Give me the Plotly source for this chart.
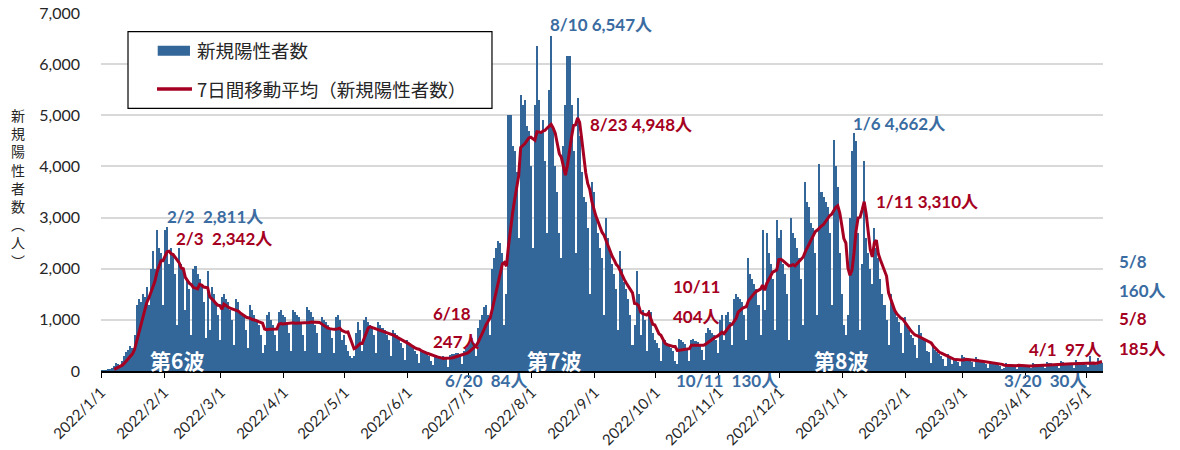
import pandas as pd
import plotly.graph_objects as go

# ---------------- data ----------------
start_date = "2022-01-01"
end_date = "2023-05-08"

cases_2022_01 = [10, 8, 5, 20, 30, 60, 100, 150, 140, 120, 200, 300, 380, 420, 480, 450,
                 700, 1300, 1400, 1350, 1500, 1450, 1650, 1300, 2000, 2350, 2000, 2750, 2400, 2300, 1300]
cases_2022_02 = [2750, 2811, 2085, 2400, 2300, 1900, 900, 2400, 2100, 2000, 1200, 1800, 1600, 700,
                 2000, 2050, 1900, 1800, 1700, 1350, 650, 1950, 800, 1650, 1500, 1350, 1100, 600]
cases_2022_03 = [1450, 1500, 1400, 1350, 1200, 1000, 500, 1400, 1350, 1150, 1100, 1050, 800, 450,
                 1300, 1200, 1100, 1000, 900, 700, 350, 500, 1100, 1150, 1000, 900, 700, 400, 1150, 1200, 1100]
cases_2022_04 = [1050, 900, 750, 400, 1200, 1150, 1100, 1050, 950, 700, 400, 1250, 1200, 1150, 1050,
                 900, 750, 350, 1050, 1000, 950, 900, 800, 650, 350, 1050, 1100, 1000, 600, 700]
cases_2022_05 = [500, 400, 300, 250, 300, 750, 950, 800, 400, 1000, 1050, 950, 900, 850, 700, 350,
                 950, 900, 850, 800, 700, 600, 300, 800, 750, 700, 650, 550, 450, 220, 600]
cases_2022_06 = [550, 500, 450, 400, 330, 150, 420, 400, 380, 350, 300, 200, 110, 300, 290, 280,
                 260, 290, 230, 84, 310, 330, 340, 350, 360, 290, 130, 400, 450, 500]
cases_2022_07 = [600, 650, 550, 300, 850, 1000, 1100, 1250, 1300, 1100, 700, 2000, 2200, 2400, 2550,
                 2500, 2300, 900, 1500, 5000, 5000, 4400, 4300, 3900, 2600, 5400, 5200, 5300, 4800, 4700, 4000]
cases_2022_08 = [2400, 5200, 6350, 5300, 4700, 4900, 4100, 2700, 5500, 6547, 4800, 4000, 3500, 2700,
                 2200, 4400, 5200, 6150, 6150, 5200, 4300, 2300, 5335, 4600, 3900, 3400, 3300, 2800,
                 1500, 3700, 3500]
cases_2022_09 = [3000, 2700, 2400, 2200, 1100, 3000, 2600, 2300, 2100, 1900, 1600, 800, 2350, 2000,
                 1750, 1600, 1400, 1100, 500, 900, 1950, 1500, 700, 1200, 1000, 400, 1200, 1150, 750, 600]
cases_2022_10 = [550, 450, 200, 650, 600, 550, 500, 450, 400, 200, 130, 620, 600, 560, 520, 430,
                 200, 600, 620, 580, 560, 520, 420, 220, 750, 850, 800, 750, 700, 600, 350]
cases_2022_11 = [1000, 1100, 600, 1100, 1150, 950, 500, 1400, 1500, 1450, 1400, 1350, 1100, 600,
                 2200, 1900, 1800, 1700, 1600, 1300, 700, 2750, 1200, 2700, 2300, 2100, 1800, 800, 2950, 2600]
cases_2022_12 = [2750, 2100, 1900, 1500, 600, 3000, 2700, 2600, 2400, 2200, 1800, 900, 3700, 3300,
                 3200, 2900, 2800, 2300, 1100, 4050, 3500, 3400, 3300, 3200, 2700, 1300, 4520, 4000,
                 3600, 2300, 1500]
cases_2023_01 = [900, 700, 1100, 3000, 4300, 4662, 4500, 2700, 800, 2100, 4108, 2600, 2300, 2000,
                 1700, 2800, 2400, 2200, 1800, 1500, 1300, 1000, 500, 1500, 1300, 1200, 1050, 950,
                 750, 350, 1050]
cases_2023_02 = [900, 800, 700, 650, 500, 250, 900, 750, 650, 600, 400, 380, 150, 500, 420, 380,
                 330, 290, 230, 100, 330, 280, 130, 260, 230, 180, 90, 320]
cases_2023_03 = [280, 250, 230, 210, 170, 70, 270, 230, 200, 190, 170, 130, 50, 200, 170, 150, 140,
                 120, 100, 30, 60, 160, 140, 120, 110, 90, 40, 130, 120, 110, 100]
cases_2023_04 = [89, 95, 50, 160, 140, 130, 120, 110, 90, 50, 180, 160, 150, 140, 120, 100, 60, 200,
                 170, 160, 150, 130, 110, 60, 210, 180, 170, 160, 140, 120]
cases_2023_05 = [70, 300, 150, 140, 120, 250, 175, 160]

month_starts = ["2022-01-01", "2022-02-01", "2022-03-01", "2022-04-01", "2022-05-01", "2022-06-01",
                "2022-07-01", "2022-08-01", "2022-09-01", "2022-10-01", "2022-11-01", "2022-12-01",
                "2023-01-01", "2023-02-01", "2023-03-01", "2023-04-01", "2023-05-01"]
tick_labels = ["2022/1/1", "2022/2/1", "2022/3/1", "2022/4/1", "2022/5/1", "2022/6/1",
               "2022/7/1", "2022/8/1", "2022/9/1", "2022/10/1", "2022/11/1", "2022/12/1",
               "2023/1/1", "2023/2/1", "2023/3/1", "2023/4/1", "2023/5/1"]
y_tick_values = [0, 1000, 2000, 3000, 4000, 5000, 6000, 7000]

series_bar_name = "新規陽性者数"
series_line_name = "7日間移動平均（新規陽性者数）"

# ---------------- build ----------------
daily_cases = (cases_2022_01 + cases_2022_02 + cases_2022_03 + cases_2022_04 + cases_2022_05 +
               cases_2022_06 + cases_2022_07 + cases_2022_08 + cases_2022_09 + cases_2022_10 +
               cases_2022_11 + cases_2022_12 + cases_2023_01 + cases_2023_02 + cases_2023_03 +
               cases_2023_04 + cases_2023_05)
dates = pd.date_range(start_date, end_date, freq="D")
assert len(dates) == len(daily_cases), (len(dates), len(daily_cases))

# 7-day trailing moving average of the daily counts (what the red line shows)
ma7 = pd.Series(daily_cases, index=dates, dtype=float).rolling(7).mean()

# bars centred in the middle of each day so month ticks fall on day boundaries
x_centres = dates + pd.Timedelta(hours=12)

BLUE = "#336699"
LABEL_BLUE = "#3a6ca1"
RED = "#a50021"
TXT = "#262626"
FONT = "Lato, 'Noto Sans CJK JP', sans-serif"
JFONT = "'Noto Sans CJK JP', Lato, sans-serif"

fig = go.Figure()
fig.add_trace(go.Bar(
    x=x_centres, y=daily_cases, name=series_bar_name,
    marker=dict(color=BLUE, line=dict(width=0)),
))
fig.add_trace(go.Scatter(
    x=x_centres, y=ma7.values, name=series_line_name, mode="lines",
    line=dict(color=RED, width=3),
))

annotations = []


def label(text, x, y, color, size=17, anchor="left", fam=FONT, ref="data"):
    annotations.append(dict(
        text=text, x=x, y=y,
        xref="x" if ref == "data" else "paper",
        yref="y" if ref == "data" else "paper",
        showarrow=False, xanchor=anchor, yanchor="middle",
        font=dict(family=fam, size=size, color=color),
    ))


label("<b>2/2  2,811人</b>", "2022-02-01 14:00", 3020, LABEL_BLUE)
label("<b>2/3  2,342人</b>", "2022-02-06 02:00", 2600, RED)
label("<b>8/10 6,547人</b>", "2022-08-08 21:00", 6770, LABEL_BLUE)
label("<b>8/23 4,948人</b>", "2022-08-28 12:00", 4813, RED)
label("<b>6/18</b>", "2022-06-12 07:00", 1129, RED)
label("<b>247人</b>", "2022-06-12 07:00", 573, RED)
label("<b>10/11</b>", "2022-10-08 12:00", 1650, RED)
label("<b>404人</b>", "2022-10-08 12:00", 1063, RED)
label("<b>1/6 4,662人</b>", "2023-01-04 22:00", 4846, LABEL_BLUE)
label("<b>1/11 3,310人</b>", "2023-01-16 09:00", 3313, RED)
label("<b>4/1  97人</b>", "2023-04-01 12:00", 411, RED)
# labels lying outside the axis ranges (below the axis / right of the plot)
label("<b>6/20  84人</b>", 0.3416, -0.026, LABEL_BLUE, ref="paper")
label("<b>10/11  130人</b>", 0.5722, -0.026, LABEL_BLUE, ref="paper")
label("<b>3/20  30人</b>", 0.8989, -0.026, LABEL_BLUE, ref="paper")
label("<b>5/8</b>", 1.0143, 0.3053, LABEL_BLUE, ref="paper")
label("<b>160人</b>", 1.0143, 0.2243, LABEL_BLUE, ref="paper")
label("<b>5/8</b>", 1.0143, 0.1472, RED, ref="paper")
label("<b>185人</b>", 1.0143, 0.0634, RED, ref="paper")
label("<b>第6波</b>", "2022-02-07 07:00", 215, "white", size=21, anchor="center", fam=JFONT)
label("<b>第7波</b>", "2022-08-11 17:00", 215, "white", size=21, anchor="center", fam=JFONT)
label("<b>第8波</b>", "2022-12-31 00:00", 215, "white", size=21, anchor="center", fam=JFONT)

# legend (boxed, upper left) : bar key block, line key, and their texts
label(series_bar_name, 0.0938, 0.8966, TXT, size=18.5, fam=JFONT, ref="paper")
label(series_line_name, 0.0938, 0.7877, TXT, size=18.5, fam=JFONT, ref="paper")
legend_shapes = [
    dict(type="rect", xref="paper", yref="paper", x0=0.02695, x1=0.3902, y0=0.7338, y1=0.9478,
         line=dict(color="black", width=1.2), fillcolor="white", layer="above"),
    dict(type="rect", xref="paper", yref="paper", x0=0.0566, x1=0.0888, y0=0.8807, y1=0.9087,
         line=dict(width=0), fillcolor=BLUE, layer="above"),
    dict(type="line", xref="paper", yref="paper", x0=0.0559, x1=0.0908, y0=0.7877, y1=0.7877,
         line=dict(color=RED, width=3.5), layer="above"),
]

# vertical (stacked) y-axis title
annotations.append(dict(
    text="<br>".join(list("新規陽性者数") + ["︵", "人", "︶"]),
    xref="paper", yref="paper", x=-0.083, y=0.51, showarrow=False,
    xanchor="center", yanchor="middle",
    font=dict(family=JFONT, size=14, color=TXT),
))

fig.update_layout(
    width=1180, height=450,
    margin=dict(l=101, r=77, t=13, b=79, autoexpand=False),
    paper_bgcolor="white", plot_bgcolor="white",
    bargap=0,
    showlegend=False,
    shapes=legend_shapes,
    annotations=annotations,
    xaxis=dict(
        type="date", automargin=False,
        range=["2022-01-01", "2023-05-09"],
        tickmode="array", tickvals=month_starts, ticktext=tick_labels,
        tickangle=-45, ticks="outside", ticklen=5, tickcolor="black",
        showline=True, linecolor="black", linewidth=1.5,
        showgrid=False, zeroline=False,
        tickfont=dict(family=FONT, size=15, color=TXT),
    ),
    yaxis=dict(
        automargin=False,
        range=[0, 7000], tickmode="array", tickvals=y_tick_values,
        tickformat=",d",
        showgrid=True, gridcolor="#d9d9d9", gridwidth=1.5,
        zeroline=False, showline=False, ticks="",
        ticklabelstandoff=20,
        tickfont=dict(family=FONT, size=16, color=TXT),
    ),
)

fig.write_html("out.html", config={"displayModeBar": False},
               post_script="document.body.style.margin='0px';")
